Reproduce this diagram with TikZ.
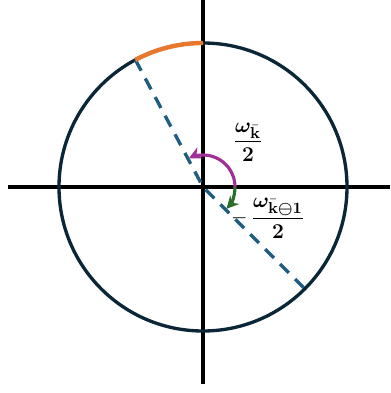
\documentclass[tikz,border=0pt]{standalone}
\usepackage{amsmath, amssymb, bm}
\usetikzlibrary{arrows.meta, calc}
\definecolor{Navy}{HTML}{0B2636}
\definecolor{Teal}{HTML}{1F5E7E}
\definecolor{Orange}{HTML}{E8782E}
\definecolor{Purple}{HTML}{A03098}
\definecolor{Leaf}{HTML}{2A6E2A}
\tikzset{
    axis/.style={line width=1.9pt, black},
    ring/.style={line width=1.9pt, color=Navy},
    phase/.style={dash pattern=on 7pt off 5pt, line width=1.9pt, color=Teal},
    turn/.style={-{Stealth[length=7pt, width=7pt]}, line width=1.8pt},
    tag/.style={inner sep=1pt, font=\fontsize{13}{16}\selectfont},
}

\begin{document}
\begin{tikzpicture}
                \useasboundingbox (-4.06,-4.12) rectangle (3.74,3.74);

                % Assi
                \draw[axis] (-3.9,0) -- (3.74,0);
                \draw[axis] (0,3.74) -- (0,-3.94);

                % Cerchio
                \coordinate (O) at (0,0);
                \draw[ring] (O) circle (2.88);

                % Fasi
                \coordinate (P) at (118:2.88);
                \coordinate (Q) at (-45:2.88);
                \draw[phase] (P) -- (O) -- (Q);
                \draw[line width=2.5pt, Orange] (P) arc (118:90:2.88);

                % Angoli
                \draw[turn, Purple] (0.64,0) arc (0:116:0.64);
                \draw[turn, Leaf] (0.64,0) arc (0:-43:0.64);

                % Etichette
                \node[tag] (half) at (0.9,0.9) {$\dfrac{\bm{\omega}_{\bar{\mathbf{k}}}}{\mathbf{2}}$};
                \node[tag] (halfprev) at (1.3,-0.62) {$-\,\dfrac{\bm{\omega}_{\bar{\mathbf{k}}\bm{\ominus}\mathbf{1}}}{\mathbf{2}}$};

            \end{tikzpicture}
\end{document}
